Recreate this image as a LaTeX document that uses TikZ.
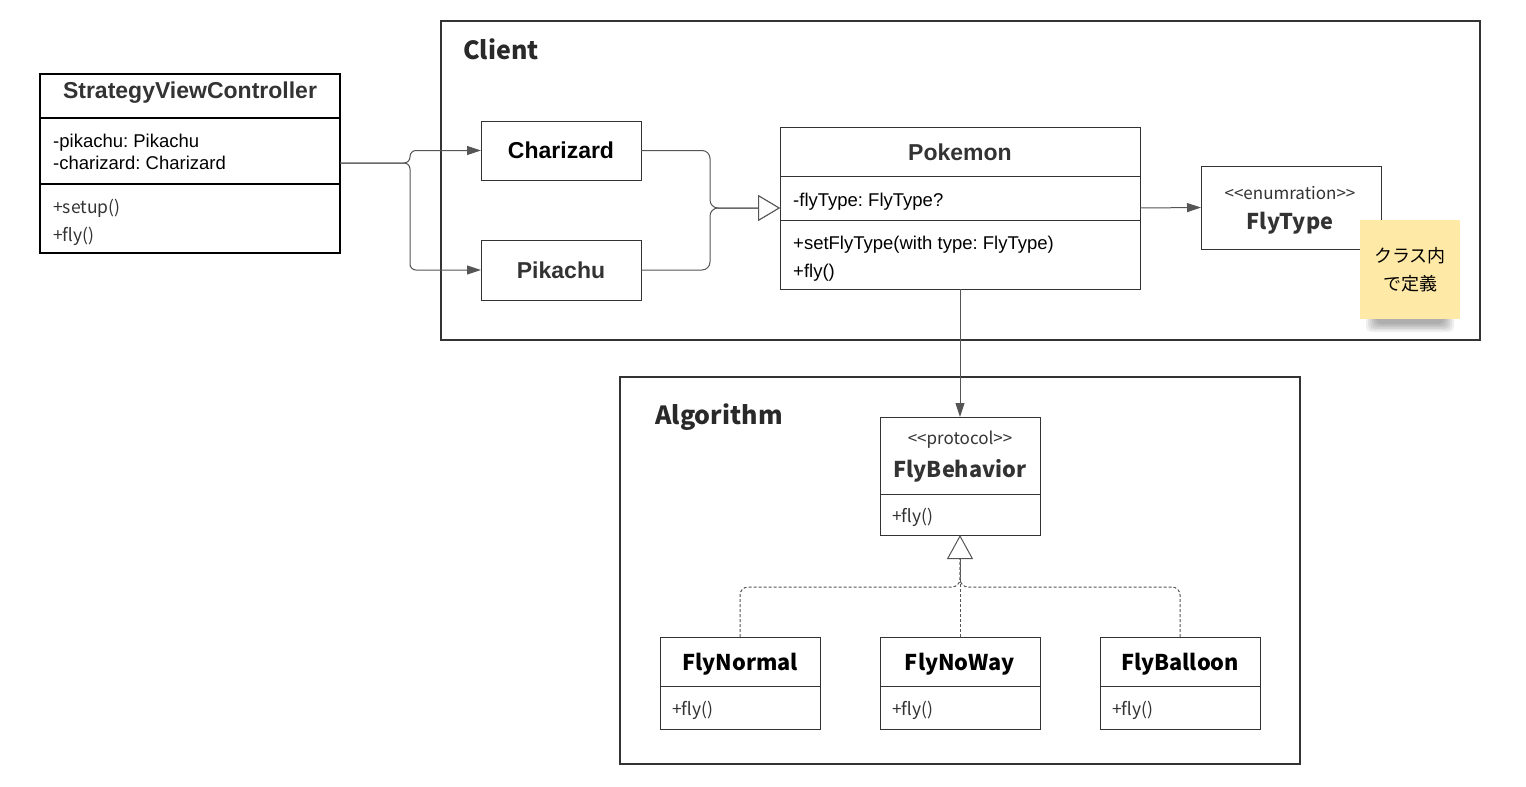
\documentclass[tikz,border=0pt]{standalone}
\usepackage{fontspec}
\setmainfont{Liberation Sans}
\newfontfamily\ssp{Noto Sans CJK JP}
\usetikzlibrary{arrows.meta,calc}
\definecolor{ink}{HTML}{333333}
\definecolor{wire}{HTML}{555555}
\definecolor{notey}{HTML}{FFE9A6}
\frenchspacing
\tikzset{
  frame/.style={draw=ink, line width=1.2pt},
  cls/.style={draw=ink, line width=1pt, anchor=north west, inner sep=0pt, outer sep=0pt},
  arial/.style={font=\fontsize{18.5}{22}\selectfont, text=black, anchor=base west, inner sep=0pt},
  arialb/.style={font=\bfseries\fontsize{23}{27}\selectfont, text=ink, inner sep=0pt},
  sspr/.style={font=\ssp\fontsize{17.5}{21}\selectfont, text=ink, anchor=west, inner sep=0pt},
  sspst/.style={font=\ssp\fontsize{17}{20}\selectfont, text=ink, inner sep=0pt},
  sspb/.style={font=\ssp\bfseries\fontsize{21.7}{26}\selectfont, text=ink, inner sep=0pt},
  grp/.style={font=\ssp\bfseries\fontsize{25}{30}\selectfont, text=ink!80!black, anchor=base west, inner sep=0pt},
  assoc/.style={draw=wire, line width=1pt, -{Triangle[length=14pt,width=9pt]}},
  gen/.style={draw=wire, line width=1pt, rounded corners=8pt, -{Triangle[open,length=22pt,width=26pt,fill=white]}},
  real/.style={draw=wire, line width=1pt, dash pattern=on 3pt off 2pt, rounded corners=8pt},
  shadowpiece/.style={fill=black, opacity=0.06, rounded corners=5pt},
}
\begin{document}
\begin{tikzpicture}[x=1pt,y=-1pt]
\useasboundingbox[fill=white] (0,0) rectangle (1526,787);

% group frames
\draw[frame] (441,21) rectangle (1480,340);
\node[grp] (clientLbl) at (463,59) {Client};
\draw[frame] (620,377) rectangle (1300,764);
\node[grp] (algoLbl) at (655,424) {Algorithm};

% StrategyViewController
\node[cls, line width=2pt, draw=black, minimum width=300pt, minimum height=179pt] (svc) at (40,74) {};
\draw[black, line width=1.5pt] ($(svc.north west)+(0,44)$) -- ($(svc.north east)+(0,44)$);
\draw[black, line width=1.5pt] ($(svc.north west)+(0,110)$) -- ($(svc.north east)+(0,110)$);
\node[arialb] (svcT) at (190,93) {StrategyViewController};
\node[arial] (svcA1) at (53,147) {-pikachu: Pikachu};
\node[arial] (svcA2) at (53,169) {-charizard: Charizard};
\node[sspr] (svcM1) at (53,208) {+setup()};
\node[sspr] (svcM2) at (53,236) {+fly()};

% Charizard / Pikachu
\node[cls, minimum width=160pt, minimum height=59pt] (char) at (481,121) {};
\node[arialb, text=black] (charT) at (char.center) {Charizard};
\node[cls, minimum width=160pt, minimum height=60pt] (pika) at (481,240) {};
\node[arialb] (pikaT) at (pika.center) {Pikachu};

% Pokemon
\node[cls, minimum width=360pt, minimum height=162pt] (pok) at (780,127) {};
\draw[ink, line width=1pt] ($(pok.north west)+(0,49)$) -- ($(pok.north east)+(0,49)$);
\draw[ink, line width=1pt] ($(pok.north west)+(0,93)$) -- ($(pok.north east)+(0,93)$);
\node[arialb] (pokT) at (960,152) {Pokemon};
\node[arial] (pokA) at (793,206) {-flyType: FlyType?};
\node[arial] (pokM1) at (793,249) {+setFlyType(with type: FlyType)};
\node[arial] (pokM2) at (793,277) {+fly()};

% FlyType
\node[cls, minimum width=180pt, minimum height=83pt] (ft) at (1201,166) {};
\node[sspst] (ftS) at (1290,193) {<{}<enumration>{}>};
\node[sspb] (ftT) at (1290,223) {FlyType};

% note with soft shadow
\foreach \k in {0,...,5}{
  \fill[shadowpiece] (1366+2*\k, 250) rectangle (1454-2*\k, 332-1.6*\k);
}
\node[cls, draw=none, fill=notey, minimum width=100pt, minimum height=99pt] (note) at (1360,220) {};
\node[font=\ssp\fontsize{18}{28}\selectfont, align=center, text=black, inner sep=0pt] (noteT) at (note.center) {クラス内\\で定義};

% FlyBehavior
\node[cls, minimum width=160pt, minimum height=118pt] (fb) at (880,417) {};
\draw[ink, line width=1pt] ($(fb.north west)+(0,77)$) -- ($(fb.north east)+(0,77)$);
\node[sspst] (fbS) at (960,440) {<{}<protocol>{}>};
\node[sspb] (fbT) at (960,471) {FlyBehavior};
\node[sspr] (fbM) at (892,517) {+fly()};

% concrete strategies
\foreach \nm/\x/\lbl in {fn/660/FlyNormal, fw/880/FlyNoWay, fbl/1100/FlyBalloon}{
  \node[cls, minimum width=160pt, minimum height=92pt] (\nm) at (\x,637) {};
  \draw[ink, line width=1pt] ($(\nm.north west)+(0,49)$) -- ($(\nm.north east)+(0,49)$);
  \node[sspb, text=black] (\nm T) at ($(\nm.north)+(0,27)$) {\lbl};
  \node[sspr] (\nm M) at ($(\nm.north west)+(12,73)$) {+fly()};
}

% connectors
\coordinate (svcOut) at (svc.east |- 0,163);
\draw[assoc, rounded corners=6pt] (svcOut) -- (410,163) -- (410,150.5) -- (char.west);
\draw[assoc, rounded corners=6pt] (svcOut) -- (410,163) -- (410,270) -- (pika.west);

\draw[gen] (char.east) -- (710,150.5) -- (710,208) -- (pok.west);
\draw[gen] (pika.east) -- (710,270) -- (710,208) -- (pok.west);

\draw[assoc] (pok.east) -- (ft.west);
\draw[assoc] (pok.south) -- (fb.north);

\draw[real] (fn.north) -- (740,587) -- (960,587) -- (960,559);
\draw[real] (fbl.north) -- (1180,587) -- (960,587) -- (960,559);
\draw[real, rounded corners=0pt, -{Triangle[open,length=24pt,width=26pt,fill=white]}] (fw.north) -- (fb.south);
\end{tikzpicture}
\end{document}
